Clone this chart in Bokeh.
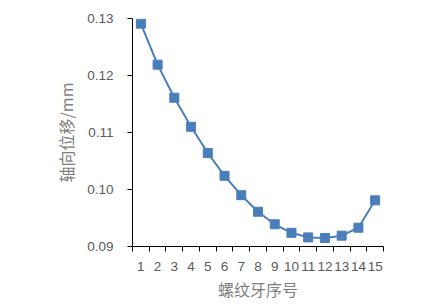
from bokeh.plotting import figure
from bokeh.models import FixedTicker, Range1d
from bokeh.embed import file_html
from bokeh.resources import INLINE

thread_no = list(range(1, 16))
disp = [0.1291, 0.1219, 0.1161, 0.1110, 0.1064, 0.1024, 0.0990, 0.0961,
        0.0939, 0.0924, 0.0916, 0.0915, 0.0919, 0.0933, 0.0981]
y_ticks = [0.09, 0.10, 0.11, 0.12, 0.13]
x_label = "螺纹牙序号"
y_label = "轴向位移/mm"

p = figure(width=445, height=305, output_backend="svg", toolbar_location=None,
           x_range=Range1d(0.5, 15.5), y_range=Range1d(0.09, 0.13),
           min_border_left=132, min_border_right=62, min_border_top=18,
           min_border_bottom=59)
p.outline_line_color = None
p.xgrid.visible = False
p.ygrid.visible = False

color = "#4A7EBB"
p.line(thread_no, disp, line_color=color, line_width=2)
p.scatter(thread_no, disp, marker="square", size=9, fill_color=color,
          line_color=color)

p.xaxis.ticker = FixedTicker(ticks=thread_no,
                             minor_ticks=[i + 0.5 for i in range(0, 16)])
p.xaxis.major_tick_line_color = None
p.xaxis.minor_tick_out = 5
p.xaxis.minor_tick_in = 0
p.xaxis.minor_tick_line_color = "black"
p.yaxis.ticker = FixedTicker(ticks=y_ticks, minor_ticks=[])
p.yaxis.major_label_overrides = {t: f"{t:.2f}" for t in y_ticks}
p.yaxis.major_tick_out = 5
p.yaxis.major_tick_in = 0

for ax in (p.xaxis[0], p.yaxis[0]):
    ax.axis_line_color = "black"
    ax.axis_line_width = 1
    ax.major_label_text_font = "Liberation Sans"
    ax.major_label_text_font_size = "13.5px"
    ax.major_label_text_color = "#595959"
    ax.axis_label_text_font = "Noto Sans CJK SC"
    ax.axis_label_text_font_size = "16px"
    ax.axis_label_text_font_style = "normal"
    ax.axis_label_text_color = "#7f7f7f"

p.xaxis.axis_label = x_label
p.yaxis.axis_label = y_label
p.xaxis.major_label_standoff = 9
p.yaxis.major_label_standoff = 14
p.xaxis.axis_label_standoff = 3
p.yaxis.axis_label_standoff = 6

open("out.html", "w").write(file_html(p, INLINE))
